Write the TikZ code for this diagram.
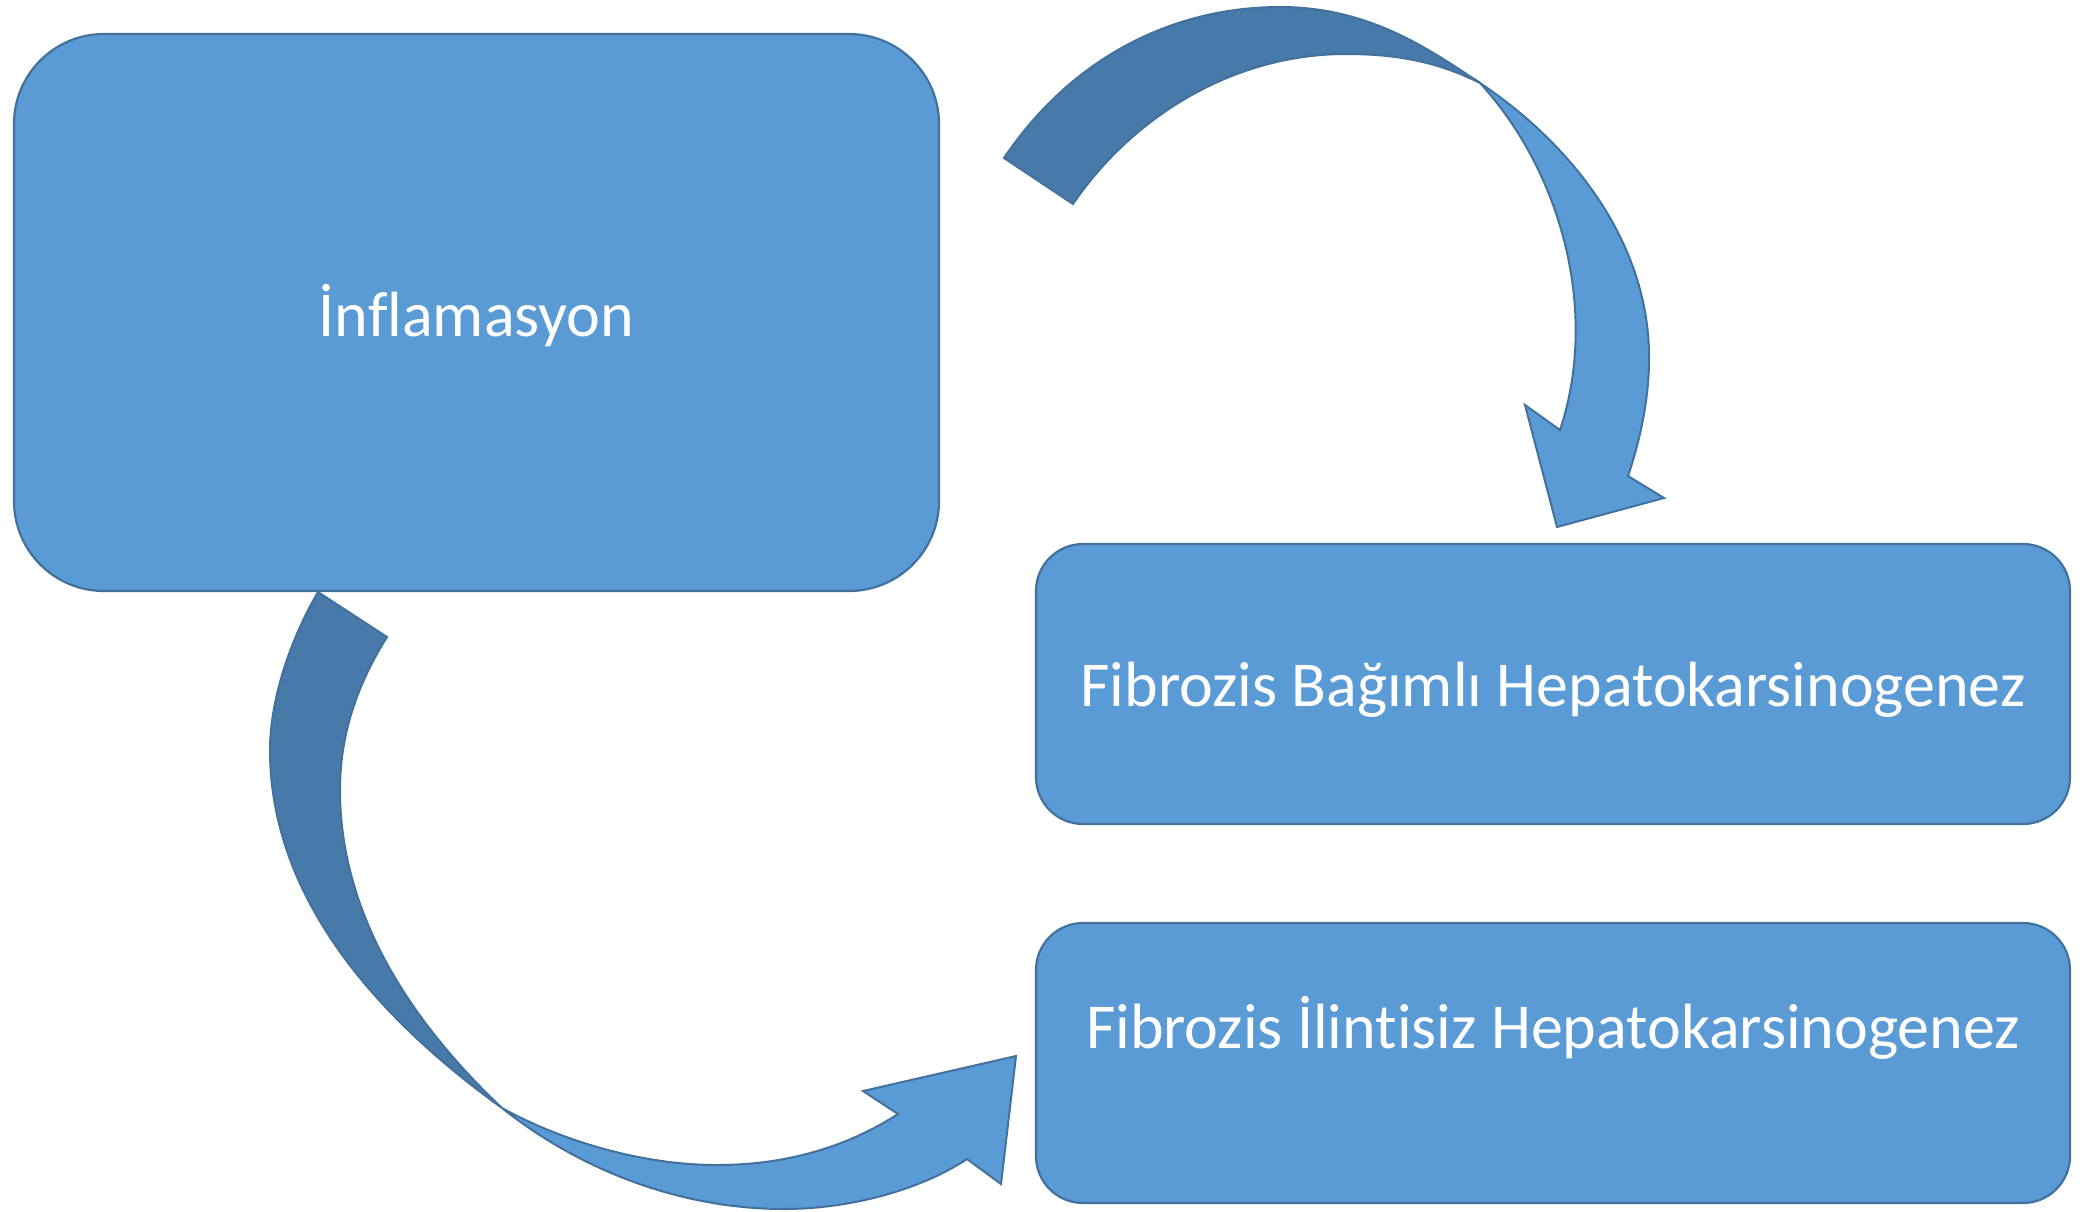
\documentclass[tikz,border=0pt]{standalone}
\usepackage{fontspec}
\setmainfont{Carlito}[Ligatures=NoCommon]
\definecolor{boxfill}{RGB}{91,155,213}
\definecolor{boxline}{RGB}{65,113,156}
\definecolor{backfill}{RGB}{71,122,168}
\begin{document}
\begin{tikzpicture}[x=0.5pt,y=-0.5pt,
  box/.style={draw=boxline, fill=boxfill, line width=1.1pt, rectangle, inner sep=0pt},
  lbl/.style={text=white, font=\fontsize{32}{38}\selectfont, anchor=base, inner sep=0pt},
  band/.style={draw=boxline, line width=1pt, line join=miter},
]
\useasboundingbox (0,0) rectangle (2083,1211);

% boxes
\node[box, rounded corners=45pt, minimum width=462.5pt, minimum height=278.5pt] (infl) at (476.5,312.5) {};
\node[box, rounded corners=23.5pt, minimum width=517pt, minimum height=140pt] (bag) at (1553,684) {};
\node[box, rounded corners=23.5pt, minimum width=517pt, minimum height=140pt] (ilin) at (1553,1063) {};

\node[lbl] (t1) at (476.5,336) {İnflamasyon};
\node[lbl] (t2) at (1553,706) {Fibrozis Bağımlı Hepatokarsinogenez};
\node[lbl] (t3) at (1553,1048) {Fibrozis İlintisiz Hepatokarsinogenez};

% top curved arrow: back (dark) part
\draw[band, fill=backfill] (1004,158) .. controls (1070,60) and (1170,7) .. (1280,7)
  .. controls (1370,7) and (1430,50) .. (1480,83)
  .. controls (1440,63) and (1400,54) .. (1346,54)
  .. controls (1230,54) and (1130,120) .. (1073,204) -- cycle;
% top curved arrow: front part with head
\draw[band, fill=boxfill] (1480,83) .. controls (1580,150) and (1650,250) .. (1649,359)
  .. controls (1649,400) and (1640,440) .. (1628,476)
  -- (1664,498) -- (1557,527) -- (1525,405) -- (1560,430)
  .. controls (1600,310) and (1560,170) .. (1480,83) -- cycle;

% bottom curved arrow: back (dark) part
\draw[band, fill=backfill] (318,592) .. controls (290,640) and (270,700) .. (270,750)
  .. controls (270,900) and (380,1020) .. (502,1108)
  .. controls (430,1040) and (340,930) .. (340,790)
  .. controls (340,730) and (360,680) .. (387,637) -- cycle;
% bottom curved arrow: front part with head
\draw[band, fill=boxfill] (502,1108) .. controls (580,1170) and (680,1209) .. (784,1209)
  .. controls (850,1209) and (920,1190) .. (967,1159)
  -- (1001,1184) -- (1016,1056) -- (863,1091) -- (898,1114)
  .. controls (850,1145) and (790,1165) .. (717,1165)
  .. controls (640,1165) and (560,1140) .. (502,1108) -- cycle;
\end{tikzpicture}
\end{document}
